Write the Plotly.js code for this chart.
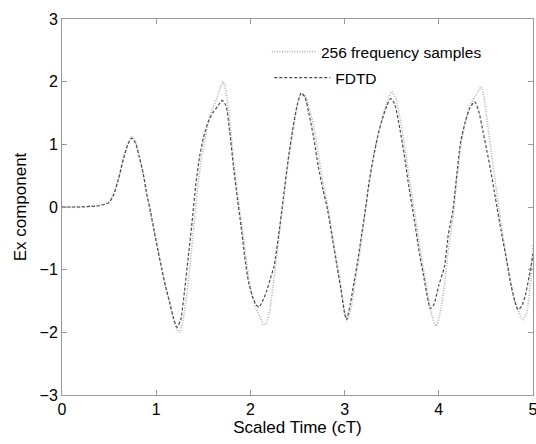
<!DOCTYPE html>
<html>
<head>
<meta charset="utf-8">
<script src="https://cdn.plot.ly/plotly-3.0.1.min.js"></script>
<style>html,body{margin:0;padding:0;background:#fff;}#plot{width:536px;height:444px;}</style>
</head>
<body>
<div id="plot"></div>
<script>
// FDTD reference curve (dashed)
var fdtdT = [0,0.1,0.2,0.3,0.4,0.45,0.5,0.55,0.6,0.65,0.7,0.74,0.78,0.82,0.86,0.9,0.94,0.98,1.02,1.06,1.1,1.14,1.18,1.22,1.26,1.3,1.34,1.38,1.42,1.46,1.5,1.55,1.6,1.65,1.7,1.74,1.78,1.82,1.86,1.9,1.94,1.98,2.02,2.06,2.09,2.13,2.17,2.21,2.25,2.3,2.35,2.4,2.45,2.5,2.54,2.58,2.62,2.67,2.72,2.77,2.82,2.87,2.92,2.96,3.0,3.02,3.06,3.1,3.14,3.18,3.22,3.26,3.3,3.35,3.4,3.45,3.49,3.53,3.58,3.63,3.68,3.74,3.79,3.84,3.88,3.91,3.95,4.0,4.06,4.1,4.15,4.19,4.23,4.28,4.33,4.38,4.42,4.47,4.51,4.55,4.6,4.66,4.72,4.77,4.81,4.84,4.88,4.92,4.96,5.0];
var fdtdV = [0,0,0,0.01,0.02,0.04,0.07,0.2,0.45,0.75,1.0,1.1,1.02,0.8,0.55,0.2,-0.08,-0.4,-0.7,-1.0,-1.27,-1.5,-1.75,-1.92,-1.8,-1.35,-0.8,-0.25,0.35,0.8,1.1,1.35,1.5,1.6,1.7,1.62,1.2,0.65,0.15,-0.3,-0.8,-1.2,-1.42,-1.56,-1.6,-1.5,-1.35,-1.15,-0.95,-0.45,0.15,0.75,1.25,1.65,1.82,1.75,1.5,1.12,0.65,0.28,-0.05,-0.5,-0.95,-1.3,-1.7,-1.8,-1.55,-1.2,-0.85,-0.45,-0.05,0.4,0.75,1.12,1.4,1.62,1.73,1.65,1.3,0.86,0.35,-0.21,-0.7,-1.11,-1.45,-1.62,-1.55,-1.25,-0.95,-0.45,-0.05,0.5,1.02,1.35,1.58,1.68,1.55,1.2,0.9,0.59,0.15,-0.37,-0.85,-1.27,-1.52,-1.64,-1.58,-1.4,-1.1,-0.75];

// 256 frequency samples curve (dotted)
var freqT = [0,0.05,0.1,0.15,0.2,0.25,0.3,0.35,0.4,0.45,0.5,0.55,0.6,0.65,0.7,0.74,0.78,0.82,0.86,0.9,0.94,0.98,1.02,1.06,1.1,1.14,1.18,1.22,1.25,1.28,1.32,1.36,1.4,1.44,1.48,1.52,1.56,1.6,1.64,1.68,1.71,1.74,1.78,1.82,1.86,1.9,1.94,1.98,2.02,2.06,2.1,2.14,2.17,2.21,2.25,2.3,2.35,2.4,2.45,2.5,2.54,2.58,2.62,2.67,2.72,2.77,2.82,2.87,2.92,2.96,3.0,3.03,3.07,3.11,3.15,3.19,3.23,3.27,3.31,3.36,3.41,3.46,3.5,3.54,3.59,3.64,3.69,3.75,3.8,3.85,3.89,3.93,3.97,4.01,4.06,4.1,4.15,4.19,4.23,4.28,4.33,4.38,4.42,4.45,4.48,4.52,4.56,4.6,4.65,4.7,4.75,4.8,4.85,4.89,4.93,4.97,5.0];
var freqV = [0,0.01,-0.01,0,0.01,0,0.02,0.01,0.03,0.05,0.08,0.22,0.45,0.78,1.02,1.12,1.05,0.82,0.55,0.22,-0.08,-0.38,-0.7,-0.98,-1.28,-1.52,-1.78,-1.95,-2.0,-1.85,-1.45,-0.9,-0.3,0.3,0.78,1.1,1.4,1.58,1.72,1.9,2.0,1.85,1.4,0.75,0.25,-0.2,-0.65,-1.1,-1.42,-1.62,-1.75,-1.88,-1.85,-1.6,-1.15,-0.5,0.1,0.7,1.2,1.62,1.8,1.78,1.6,1.3,0.85,0.4,0.02,-0.45,-0.9,-1.28,-1.65,-1.8,-1.6,-1.22,-0.85,-0.4,0.05,0.45,0.82,1.18,1.48,1.72,1.84,1.75,1.4,0.95,0.42,-0.15,-0.65,-1.1,-1.45,-1.75,-1.9,-1.72,-1.25,-0.7,-0.15,0.4,0.95,1.35,1.62,1.75,1.85,1.92,1.75,1.3,0.85,0.4,-0.15,-0.65,-1.1,-1.45,-1.68,-1.8,-1.7,-1.25,-0.6];

var xTicks = [0,1,2,3,4,5];
var yTicks = [-3,-2,-1,0,1,2,3];

var font = 'Liberation Sans, Arial, Helvetica, sans-serif';

var traces = [
  {x: freqT, y: freqV, type: 'scatter', mode: 'lines', name: '256 frequency samples',
   line: {color: '#b0b0b0', width: 1.6, dash: '1px,1.5px', shape: 'spline', smoothing: 0.6}, legend: 'legend'},
  {x: fdtdT, y: fdtdV, type: 'scatter', mode: 'lines', name: 'FDTD',
   line: {color: '#4a4a4a', width: 1.2, dash: '3px,2px', shape: 'spline', smoothing: 0.6}, legend: 'legend2'}
];

var axCommon = {
  showgrid: false, zeroline: false, showline: true, linecolor: '#999', linewidth: 1,
  mirror: 'ticks', ticks: 'inside', ticklen: 5, tickcolor: '#999',
  tickfont: {family: font, size: 16, color: '#000'}
};

var layout = {
  width: 536, height: 444,
  margin: {l: 62, r: 3, t: 19, b: 49},
  paper_bgcolor: '#fff', plot_bgcolor: '#fff',
  showlegend: true,
  xaxis: Object.assign({}, axCommon, {range: [0, 5], tickvals: xTicks, ticktext: xTicks.map(String),
    ticklabeloverflow: 'allow',
    title: {text: 'Scaled Time (cT)', font: {family: font, size: 17, color: '#000'}, standoff: 2}}),
  yaxis: Object.assign({}, axCommon, {range: [-3, 3], tickvals: yTicks, ticktext: yTicks.map(function(v){return v < 0 ? '\u2212' + Math.abs(v) : String(v);}),
    title: {text: 'Ex component', font: {family: font, size: 17, color: '#000'}, standoff: 8}}),
  legend: {x: 0.435, y: 0.912, xanchor: 'left', yanchor: 'middle', bgcolor: 'rgba(0,0,0,0)', borderwidth: 0,
    font: {family: font, size: 15.5, color: '#000'}, itemwidth: 44},
  legend2: {x: 0.44, y: 0.843, xanchor: 'left', yanchor: 'middle', bgcolor: 'rgba(0,0,0,0)', borderwidth: 0,
    font: {family: font, size: 15.5, color: '#000'}, itemwidth: 56}
};

Plotly.newPlot('plot', traces, layout, {staticPlot: true, displayModeBar: false});
</script>
</body>
</html>
